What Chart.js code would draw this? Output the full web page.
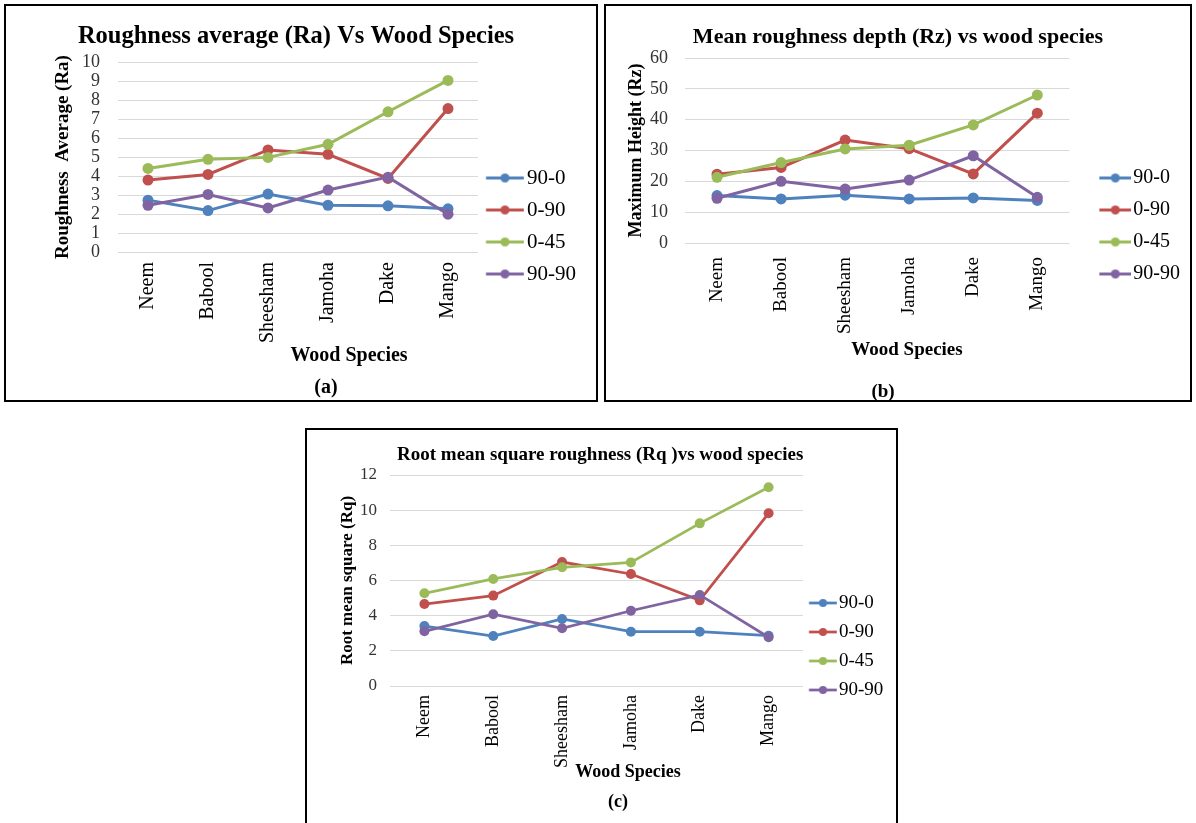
<!DOCTYPE html>
<html><head><meta charset="utf-8">
<script src="https://cdn.jsdelivr.net/npm/chart.js@4.4.1/dist/chart.umd.min.js"></script>
<style>
html,body{margin:0;padding:0;background:#fff;width:1196px;height:823px;overflow:hidden;}
.panel{position:absolute;border:2px solid #000;box-sizing:border-box;}
.cv{position:absolute;}
canvas{display:block;}
</style></head><body>
<div class="panel" style="left:4px;top:4px;width:594px;height:398px"></div>
<div class="panel" style="left:604px;top:4px;width:588px;height:398px"></div>
<div class="panel" style="left:305px;top:428px;width:593px;height:400px"></div>
<div class="cv" style="left:6px;top:6px;"><canvas id="ca" width="590" height="394"></canvas></div>
<div class="cv" style="left:606px;top:6px;"><canvas id="cb" width="584" height="394"></canvas></div>
<div class="cv" style="left:307px;top:430px;"><canvas id="cc" width="589" height="395"></canvas></div>
<script>
// ---------- data ----------
const species = ['Neem', 'Babool', 'Sheesham', 'Jamoha', 'Dake', 'Mango'];
const seriesLabels = ['90-0', '0-90', '0-45', '90-90'];

const ra_90_0  = [2.73, 2.18, 3.05, 2.46, 2.43, 2.27];
const ra_0_90  = [3.79, 4.08, 5.37, 5.14, 3.87, 7.55];
const ra_0_45  = [4.40, 4.88, 4.98, 5.67, 7.38, 9.03];
const ra_90_90 = [2.46, 3.03, 2.32, 3.26, 3.94, 1.99];

const rz_90_0  = [15.4, 14.3, 15.5, 14.3, 14.6, 13.8];
const rz_0_90  = [22.3, 24.5, 33.4, 30.6, 22.4, 42.1];
const rz_0_45  = [21.3, 26.1, 30.5, 31.7, 38.3, 48.0];
const rz_90_90 = [14.5, 20.0, 17.5, 20.4, 28.3, 14.8];

const rq_90_0  = [3.41, 2.84, 3.81, 3.09, 3.09, 2.86];
const rq_0_90  = [4.66, 5.14, 7.05, 6.37, 4.87, 9.82];
const rq_0_45  = [5.27, 6.09, 6.75, 7.03, 9.25, 11.3];
const rq_90_90 = [3.11, 4.08, 3.28, 4.28, 5.18, 2.77];

const raTicks = [0, 1, 2, 3, 4, 5, 6, 7, 8, 9, 10];
const rzTicks = [0, 10, 20, 30, 40, 50, 60];
const rqTicks = [0, 2, 4, 6, 8, 10, 12];

// ---------- styles ----------
const FAM = '"Liberation Serif", "Times New Roman", serif';
const COLORS = ['#4F81BD', '#C0504D', '#9BBB59', '#8064A2'];

const captionPlugin = {
  id: 'captions',
  afterDraw(chart, args, opts) {
    const ctx = chart.ctx;
    (opts.items || []).forEach(it => {
      ctx.save();
      ctx.font = it.font;
      ctx.fillStyle = it.color || '#000';
      ctx.textAlign = 'center';
      ctx.textBaseline = 'middle';
      ctx.fillText(it.text, it.x, it.y);
      ctx.restore();
    });
  }
};

// legend sample: line of length L starting ls px after the legend box start, dot in its middle
function legendImage(color, ls, L, B, lw, r) {
  const hw = Math.max(B / 2 - ls, ls + L - B / 2, 1);
  const W = Math.ceil(2 * hw);
  const imgLeft = B / 2 - W / 2;
  const x0 = ls - imgLeft;
  const h = Math.ceil(2 * r + 4);
  const c = document.createElement('canvas');
  c.width = W; c.height = h;
  const g = c.getContext('2d');
  g.strokeStyle = color; g.lineWidth = lw;
  g.beginPath(); g.moveTo(x0, h / 2); g.lineTo(x0 + L, h / 2); g.stroke();
  g.fillStyle = color;
  g.beginPath(); g.arc(x0 + L / 2, h / 2, r, 0, Math.PI * 2); g.fill();
  return c;
}

function build(id, s) {
  const cv = document.getElementById(id);
  const W = cv.width, H = cv.height;
  const meas = cv.getContext('2d');
  meas.font = s.legFs + 'px ' + FAM;
  const maxText = Math.max(...seriesLabels.map(t => meas.measureText(t).width));
  const legW = s.legPad + s.boxW + s.legFs / 2 + maxText + 10;
  const padRight = Math.max(0, W - s.r - legW);
  const itemH = s.legFs;
  // legend spans the full canvas height; a blank legend title pushes the items down
  const legTitleH = s.legFirst - s.legPad - itemH / 2;
  const titlePadTop = s.titleC - 0.6 * s.titleFs;
  const titlePadBottom = s.t - titlePadTop - 1.2 * s.titleFs;
  const xH = H - s.b;
  const yTitlePad = s.yTitleC - 0.6 * s.yTitleFs;

  const datasets = s.series.map((d, i) => ({
    label: seriesLabels[i],
    data: d,
    borderColor: COLORS[i],
    backgroundColor: COLORS[i],
    pointBackgroundColor: COLORS[i],
    pointBorderColor: COLORS[i],
    pointRadius: s.pr,
    pointBorderWidth: 0,
    borderWidth: s.lw,
    tension: 0,
    order: 4 - i
  }));

  const imgs = COLORS.map(c => legendImage(c, s.ls, s.lineL, s.boxW, s.lw, s.pr - 1));

  return new Chart(cv, {
    type: 'line',
    data: { labels: species, datasets },
    plugins: [captionPlugin],
    options: {
      responsive: false,
      animation: false,
      events: [],
      layout: { padding: { left: 0, top: 0, right: padRight, bottom: 0 } },
      plugins: {
        title: {
          display: true, text: s.title, color: '#000',
          font: { family: FAM, size: s.titleFs, weight: 'bold' },
          padding: { top: titlePadTop, bottom: titlePadBottom }
        },
        legend: {
          display: true, position: 'right', align: 'start',
          title: {
            display: true, text: ' ', font: { family: FAM, size: 1 },
            padding: { top: legTitleH - 1.2, bottom: 0 }
          },
          labels: {
            usePointStyle: true, pointStyleWidth: s.boxW, padding: s.legPad,
            color: '#000', font: { family: FAM, size: s.legFs },
            generateLabels: (chart) => chart.data.datasets.map((ds, i) => ({
              text: ds.label, pointStyle: imgs[i], fillStyle: ds.borderColor,
              strokeStyle: ds.borderColor, lineWidth: 0, hidden: false, datasetIndex: i, fontColor: '#000'
            }))
          }
        },
        tooltip: { enabled: false },
        captions: {
          items: [
            { text: 'Wood Species', font: 'bold ' + s.capFs + 'px ' + FAM, x: s.xCap[0], y: s.xCap[1] },
            { text: s.panel, font: 'bold ' + s.capFs + 'px ' + FAM, x: s.pCap[0], y: s.pCap[1] }
          ]
        }
      },
      scales: {
        x: {
          type: 'category', offset: true,
          grid: { display: false, drawTicks: false },
          border: { display: false },
          ticks: {
            autoSkip: false, maxRotation: 90, minRotation: 90, padding: s.xPad,
            color: '#000', font: { family: FAM, size: s.xFs }
          },
          afterFit: (sc) => { sc.height = xH; }
        },
        y: {
          type: 'linear', min: s.ticks[0], max: s.ticks[s.ticks.length - 1],
          afterBuildTicks: (sc) => { sc.ticks = s.ticks.map(v => ({ value: v })); },
          grid: { color: '#D9D9D9', lineWidth: 1, drawTicks: false },
          border: { display: false },
          ticks: { autoSkip: false, padding: s.yPad, color: '#333', font: { family: FAM, size: s.yFs } },
          title: {
            display: true, text: s.yTitle, color: '#000',
            font: { family: FAM, size: s.yTitleFs, weight: 'bold' },
            padding: { top: yTitlePad, bottom: 0 }
          },
          afterFit: (sc) => { sc.width = s.l; }
        }
      }
    }
  });
}

// positions below are canvas-relative pixels
build('ca', {
  title: 'Roughness average (Ra) Vs Wood Species', titleFs: 24.5, titleC: 31,
  yTitle: 'Roughness  Average (Ra)', yTitleFs: 19, yTitleC: 57,
  l: 112, t: 56, r: 472, b: 246,
  series: [ra_90_0, ra_0_90, ra_0_45, ra_90_90], ticks: raTicks,
  yFs: 18, yPad: 18, xFs: 20, xPad: 10,
  legFs: 21, legPad: 11, legFirst: 172, boxW: 27.5, ls: -3, lineL: 38,
  lw: 3, pr: 5.5,
  capFs: 20, xCap: [343, 350], panel: '(a)', pCap: [320, 382]
});

build('cb', {
  title: 'Mean roughness depth (Rz) vs wood species', titleFs: 22, titleC: 31,
  yTitle: 'Maximum Height (Rz)', yTitleFs: 18, yTitleC: 30,
  l: 79, t: 52, r: 464, b: 237,
  series: [rz_90_0, rz_0_90, rz_0_45, rz_90_90], ticks: rzTicks,
  yFs: 18, yPad: 17, xFs: 19, xPad: 14,
  legFs: 20, legPad: 12, legFirst: 172, boxW: 42, ls: 18, lineL: 32,
  lw: 3, pr: 5.5,
  capFs: 19, xCap: [301, 344], panel: '(b)', pCap: [277, 386]
});

build('cc', {
  title: 'Root mean square roughness (Rq )vs wood species', titleFs: 19, titleC: 25,
  yTitle: 'Root mean square (Rq)', yTitleFs: 17, yTitleC: 41,
  l: 83, t: 45, r: 496, b: 256,
  series: [rq_90_0, rq_0_90, rq_0_45, rq_90_90], ticks: rqTicks,
  yFs: 17, yPad: 13, xFs: 18, xPad: 9,
  legFs: 19, legPad: 10, legFirst: 173, boxW: 16.5, ls: -4, lineL: 28,
  lw: 2.75, pr: 5,
  capFs: 18, xCap: [321, 342], panel: '(c)', pCap: [311, 372]
});
</script>
</body></html>
